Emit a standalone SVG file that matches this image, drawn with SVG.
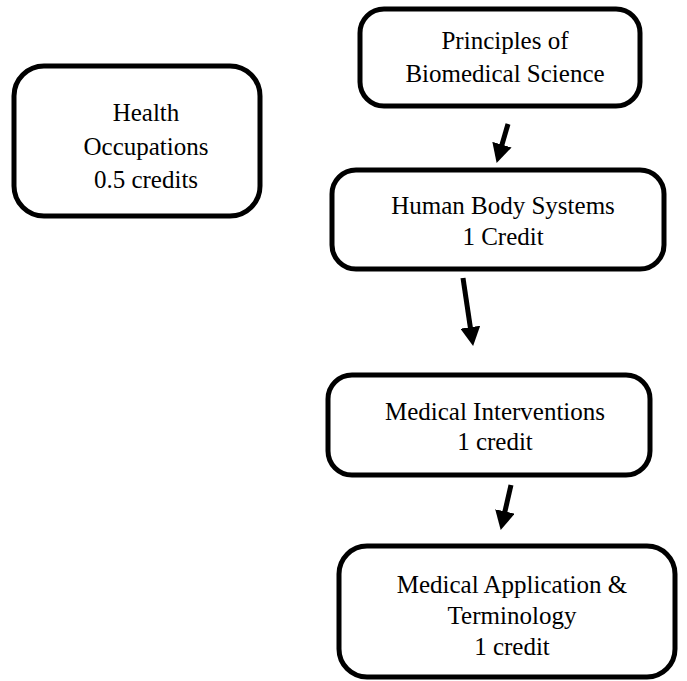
<svg xmlns="http://www.w3.org/2000/svg" width="687" height="681" viewBox="0 0 687 681">
<style>
.box{fill:#fff;stroke:#000;stroke-width:5}
.lbl{font-family:"Liberation Serif","Times New Roman",serif;font-size:25px;fill:#000;text-anchor:middle}
.conn{stroke:#000;stroke-width:5;fill:none;marker-end:url(#ah)}
</style>
<defs>
<marker id="ah" markerUnits="userSpaceOnUse" markerWidth="19" markerHeight="20" refX="2" refY="10" orient="auto">
<path d="M0,0 L19,10 L0,20 z" fill="#000"/>
</marker>
</defs>
<rect width="687" height="681" fill="#fff"/>
<g id="health">
<rect class="box" x="14" y="66" width="246" height="150" rx="30"/>
<text class="lbl" x="146" y="121">Health</text>
<text class="lbl" x="146" y="154.5">Occupations</text>
<text class="lbl" x="146" y="188">0.5 credits</text>
</g>
<g id="principles">
<rect class="box" x="360" y="9" width="280" height="97" rx="24"/>
<text class="lbl" x="505" y="49">Principles of</text>
<text class="lbl" x="505" y="82">Biomedical Science</text>
</g>
<g id="hbs">
<rect class="box" x="332" y="170" width="332" height="99" rx="24"/>
<text class="lbl" x="503" y="214">Human Body Systems</text>
<text class="lbl" x="503" y="245">1 Credit</text>
</g>
<g id="mi">
<rect class="box" x="328" y="375" width="322" height="100" rx="24"/>
<text class="lbl" x="495" y="420">Medical Interventions</text>
<text class="lbl" x="495" y="450">1 credit</text>
</g>
<g id="mat">
<rect class="box" x="339" y="546" width="336" height="131" rx="28"/>
<text class="lbl" x="512" y="593">Medical Application &amp;</text>
<text class="lbl" x="512" y="624">Terminology</text>
<text class="lbl" x="512" y="655">1 credit</text>
</g>
<g id="connectors">
<line class="conn" x1="508" y1="124" x2="501.4" y2="146.6"/>
<line class="conn" x1="463" y1="278" x2="470.6" y2="329.2"/>
<line class="conn" x1="511" y1="485" x2="504.5" y2="513.4"/>
</g>
</svg>
